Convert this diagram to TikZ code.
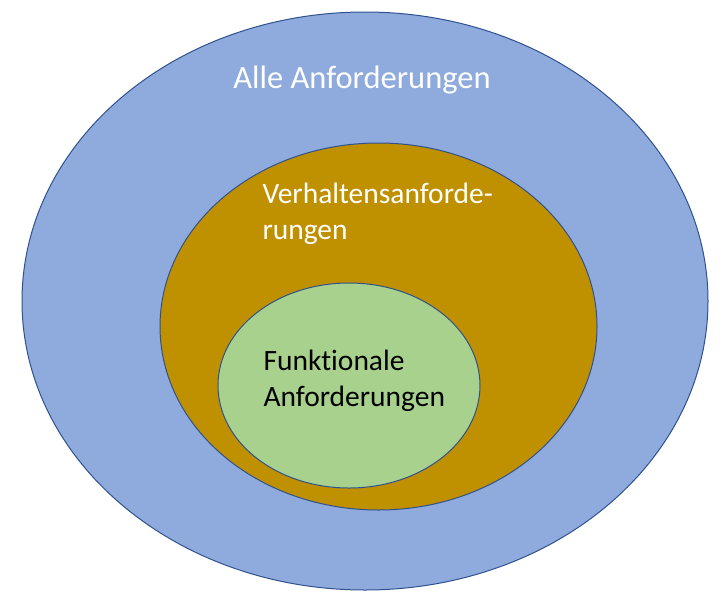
\documentclass[tikz,border=0pt]{standalone}
\usepackage{fontspec}
\setmainfont{Carlito}[Ligatures=NoCommon]
\usetikzlibrary{shapes.geometric}
\definecolor{cblue}{HTML}{8FAADC}
\definecolor{cgold}{HTML}{BF9000}
\definecolor{cgreen}{HTML}{A9D18E}
\definecolor{cline}{HTML}{2F528F}
\tikzset{
  every picture/.style={line width=1pt},
  set/.style={ellipse, draw=cline, fill=#1, inner sep=0pt},
  label/.style={font=\fontsize{29.5}{35.5}\selectfont, align=left, inner sep=0pt},
}

\begin{document}
\begin{tikzpicture}[x=1pt, y=-1pt]
  \useasboundingbox (0,0) rectangle (728,600);

  % sets
  \node[set=cblue, minimum width=686pt, minimum height=578pt] (all) at (365,301) {};
  \node[set=cgold, minimum width=437pt, minimum height=367pt] (beh) at (378.5,326.5) {};
  \node[set=cgreen, minimum width=262pt, minimum height=205pt] (func) at (349,385.5) {};

  % names
  \node[label, font=\fontsize{32.5}{36}\selectfont, text=white, anchor=base] (allname) at (362,88) {Alle Anforderungen};
  \node[label, text=white, anchor=north west] (behname) at (262,183) {Verhaltensanforde-\\rungen};
  \node[label, text=black, anchor=north west] (funcname) at (263,350) {Funktionale\\Anforderungen};
\end{tikzpicture}
\end{document}
